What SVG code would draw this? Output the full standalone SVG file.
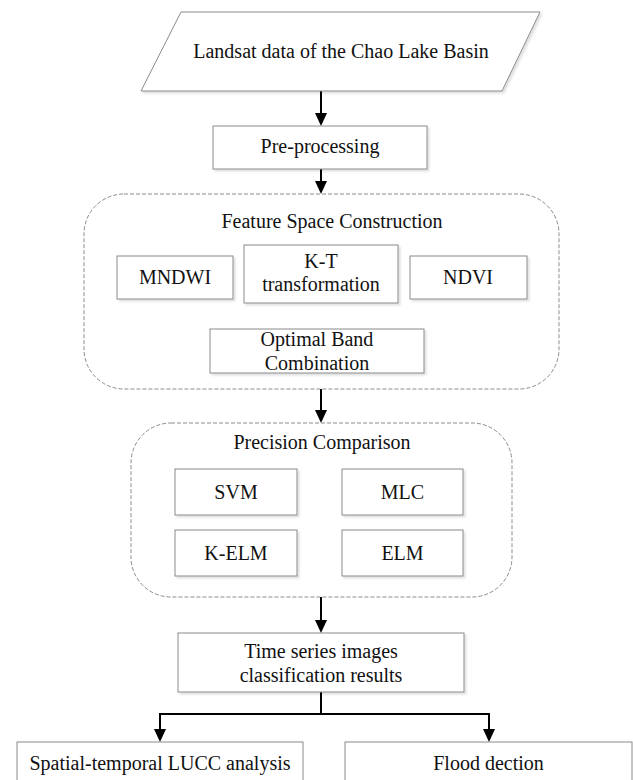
<svg xmlns="http://www.w3.org/2000/svg" width="633" height="780" viewBox="0 0 633 780">
<style>
  .box{fill:#fff;stroke:#8a8a8a;stroke-width:1}
  .grp{fill:none;stroke:#8c8c8c;stroke-width:1;stroke-dasharray:4 2}
  .lbl{font-family:"Liberation Serif","Times New Roman",serif;font-size:20px;fill:#111;text-anchor:middle}
  .conn{fill:none;stroke:#000;stroke-width:2}
</style>
<defs>
  <marker id="arr" viewBox="0 0 13 12" refX="3" refY="6" markerWidth="13" markerHeight="12" markerUnits="userSpaceOnUse" orient="auto">
    <path d="M0,0 L13,6 L0,12 Z" fill="#000"/>
  </marker>
  <filter id="sh" x="-5%" y="-5%" width="115%" height="130%">
    <feDropShadow dx="2" dy="2" stdDeviation="1.2" flood-color="#000" flood-opacity="0.12"/>
  </filter>
</defs>
<rect width="633" height="780" fill="#fff"/>

<g id="connectors">
  <path class="conn" d="M321,91 V116" marker-end="url(#arr)"/>
  <path class="conn" d="M321,169 V184" marker-end="url(#arr)"/>
  <path class="conn" d="M321,389 V413" marker-end="url(#arr)"/>
  <path class="conn" d="M321,597 V623" marker-end="url(#arr)"/>
  <path class="conn" d="M321,692 V714 H160 V732" marker-end="url(#arr)"/>
  <path class="conn" d="M321,714 H489 V732" marker-end="url(#arr)"/>
</g>

<g id="landsat">
  <polygon class="box" filter="url(#sh)" points="181,12 540,12 502,91 141,91"/>
  <text class="lbl" x="341" y="58">Landsat data of the Chao Lake Basin</text>
</g>

<g id="preprocessing">
  <rect class="box" filter="url(#sh)" x="213" y="126" width="214" height="43"/>
  <text class="lbl" x="320" y="153">Pre-processing</text>
</g>

<g id="feature-space">
  <rect class="grp" x="84" y="194" width="475" height="195" rx="40" ry="40"/>
  <text class="lbl" x="332" y="228">Feature Space Construction</text>
</g>

<g id="mndwi">
  <rect class="box" filter="url(#sh)" x="117" y="256" width="116" height="43"/>
  <text class="lbl" x="175" y="284">MNDWI</text>
</g>

<g id="kt">
  <rect class="box" filter="url(#sh)" x="244" y="245" width="154" height="58"/>
  <text class="lbl" x="321" y="268">K-T</text>
  <text class="lbl" x="321" y="291">transformation</text>
</g>

<g id="ndvi">
  <rect class="box" filter="url(#sh)" x="410" y="256" width="117" height="43"/>
  <text class="lbl" x="468" y="284">NDVI</text>
</g>

<g id="optimal-band">
  <rect class="box" filter="url(#sh)" x="210" y="329" width="214" height="44"/>
  <text class="lbl" x="317" y="346">Optimal Band</text>
  <text class="lbl" x="317" y="370">Combination</text>
</g>

<g id="precision">
  <rect class="grp" x="131" y="423" width="381" height="174" rx="40" ry="40"/>
  <text class="lbl" x="322" y="449">Precision Comparison</text>
</g>

<g id="svm">
  <rect class="box" filter="url(#sh)" x="175" y="469" width="122" height="46"/>
  <text class="lbl" x="236" y="499">SVM</text>
</g>

<g id="mlc">
  <rect class="box" filter="url(#sh)" x="342" y="469" width="121" height="46"/>
  <text class="lbl" x="402.5" y="499">MLC</text>
</g>

<g id="kelm">
  <rect class="box" filter="url(#sh)" x="175" y="530" width="122" height="46"/>
  <text class="lbl" x="236" y="560">K-ELM</text>
</g>

<g id="elm">
  <rect class="box" filter="url(#sh)" x="342" y="530" width="121" height="46"/>
  <text class="lbl" x="402.5" y="560">ELM</text>
</g>

<g id="time-series">
  <rect class="box" filter="url(#sh)" x="178" y="633" width="286" height="59"/>
  <text class="lbl" x="321" y="658">Time series images</text>
  <text class="lbl" x="321" y="682">classification results</text>
</g>

<g id="lucc">
  <rect class="box" x="17" y="742" width="286" height="50"/>
  <text class="lbl" x="160" y="770">Spatial-temporal LUCC analysis</text>
</g>

<g id="flood">
  <rect class="box" x="345" y="742" width="287" height="50"/>
  <text class="lbl" x="488.5" y="770">Flood dection</text>
</g>
</svg>
